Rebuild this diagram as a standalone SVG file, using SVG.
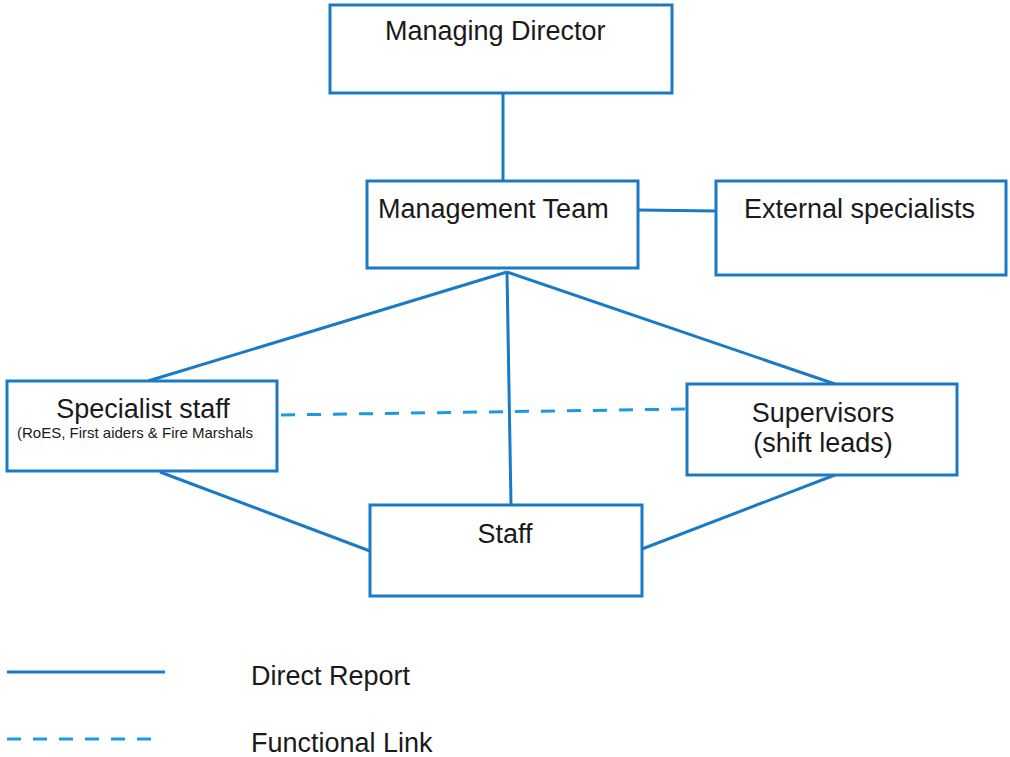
<svg xmlns="http://www.w3.org/2000/svg" width="1010" height="757" viewBox="0 0 1010 757">
<style>
.box{fill:#fff;stroke:#1b7ac6;stroke-width:3}
.ln{stroke:#1b7ac6;stroke-width:3;fill:none}
.dash{stroke:#1b9ae0;stroke-width:3;fill:none;stroke-dasharray:14 12}
text{font-family:"Liberation Sans",Arial,sans-serif;fill:#1a1a1a}
.t{font-size:27px}
.s{font-size:15px}
</style>
<rect width="1010" height="757" fill="#fff"/>
<g id="connectors">
<line class="ln" x1="503" y1="93" x2="503" y2="181"/>
<line class="ln" x1="638" y1="210" x2="716" y2="211"/>
<line class="ln" x1="507" y1="272" x2="148" y2="381"/>
<line class="ln" x1="507" y1="272" x2="511" y2="505"/>
<line class="ln" x1="507" y1="272" x2="835" y2="384"/>
<line class="ln" x1="160" y1="472" x2="370" y2="551"/>
<line class="ln" x1="835" y1="475" x2="642" y2="549"/>
<line class="dash" x1="281" y1="415" x2="686" y2="409"/>
</g>
<g id="managing-director">
<rect class="box" x="330" y="5" width="342" height="88"/>
<text class="t" x="385" y="40">Managing Director</text>
</g>
<g id="management-team">
<rect class="box" x="367" y="181" width="271" height="87"/>
<text class="t" x="378" y="218">Management Team</text>
</g>
<g id="external-specialists">
<rect class="box" x="716" y="181" width="290" height="94"/>
<text class="t" x="744" y="218">External specialists</text>
</g>
<g id="specialist-staff">
<rect class="box" x="7" y="381" width="270" height="90"/>
<text class="t" x="143" y="418" text-anchor="middle">Specialist staff</text>
<text class="s" x="17" y="438">(RoES, First aiders &amp; Fire Marshals</text>
</g>
<g id="supervisors">
<rect class="box" x="687" y="384" width="270" height="91"/>
<text class="t" x="823" y="422" text-anchor="middle">Supervisors</text>
<text class="t" x="823" y="452" text-anchor="middle">(shift leads)</text>
</g>
<g id="staff">
<rect class="box" x="370" y="505" width="272" height="91"/>
<text class="t" x="505" y="543" text-anchor="middle">Staff</text>
</g>
<g id="legend">
<line class="ln" x1="7" y1="672" x2="165" y2="672"/>
<text class="t" x="251" y="685">Direct Report</text>
<line class="dash" x1="7" y1="739" x2="155" y2="739"/>
<text class="t" x="251" y="752">Functional Link</text>
</g>
</svg>
